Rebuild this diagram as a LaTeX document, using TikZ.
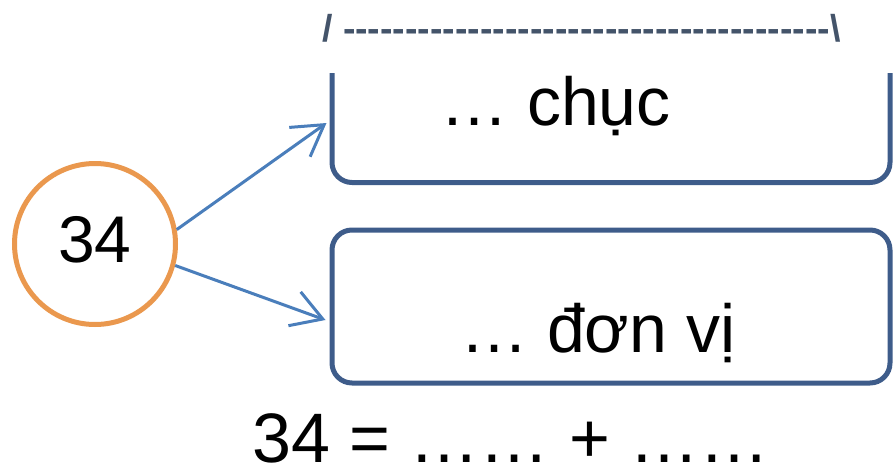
\documentclass[tikz,border=0pt]{standalone}
\usepackage{fontspec}
\setmainfont{Liberation Sans}
\usetikzlibrary{arrows.meta,calc}
\definecolor{boxblue}{RGB}{62,92,138}
\definecolor{arrowblue}{RGB}{74,126,187}
\definecolor{ringorange}{RGB}{234,152,78}
\definecolor{dashgray}{RGB}{68,84,106}
\newcommand\hy{-\kern0pt}
\newcommand\hyten{\hy\hy\hy\hy\hy\hy\hy\hy\hy\hy}
\tikzset{
  valuebox/.style={draw=boxblue, line width=5pt, rounded corners=20pt,
    minimum width=558pt, minimum height=153pt, inner sep=0pt},
  ring/.style={circle, draw=ringorange, line width=5pt, minimum size=161pt,
    inner sep=0pt, font=\fontsize{66}{70}\selectfont, text depth=10pt},
  link/.style={draw=arrowblue, line width=3pt,
    -{Straight Barb[length=30pt,width=36pt]}},
  boxlabel/.style={anchor=base west, inner sep=0pt, font=\fontsize{68}{72}\selectfont},
  eqlabel/.style={anchor=base west, inner sep=0pt, font=\fontsize{70}{74}\selectfont},
  toplabel/.style={anchor=base west, inner sep=0pt, text=dashgray, font=\bfseries\fontsize{37.5}{40}\selectfont}
}
\begin{document}
\begin{tikzpicture}[x=1pt,y=-1pt]
\useasboundingbox (0,0) rectangle (894,471);
\node[toplabel] (rule) at (322,41.5) {/ \hyten\hyten\hyten\hy\hy\hy\hy\hy\hy\hy\hy\hy\textbackslash};
\begin{scope}
  \clip (0,73) rectangle (894,471);
  \node[valuebox] (tens) at (611,106) {};
\end{scope}
\node[valuebox] (units) at (611,306.5) {};
\node[ring] (num) at (95,244) {34};
\node[boxlabel] (tenslabel) at (440,125) {… chục};
\node[boxlabel] (unitslabel) at (460,352) {… đơn vị};
\node[eqlabel] (eq) at (252,462) {34 = …… + ……};
\coordinate (t1) at ($(tens.west)+(-3,17)$);
\coordinate (t2) at ($(units.west)+(-4,13.5)$);
\draw[link] (num.10) -- (t1);
\draw[link] (num.-15) -- (t2);
\end{tikzpicture}
\end{document}
